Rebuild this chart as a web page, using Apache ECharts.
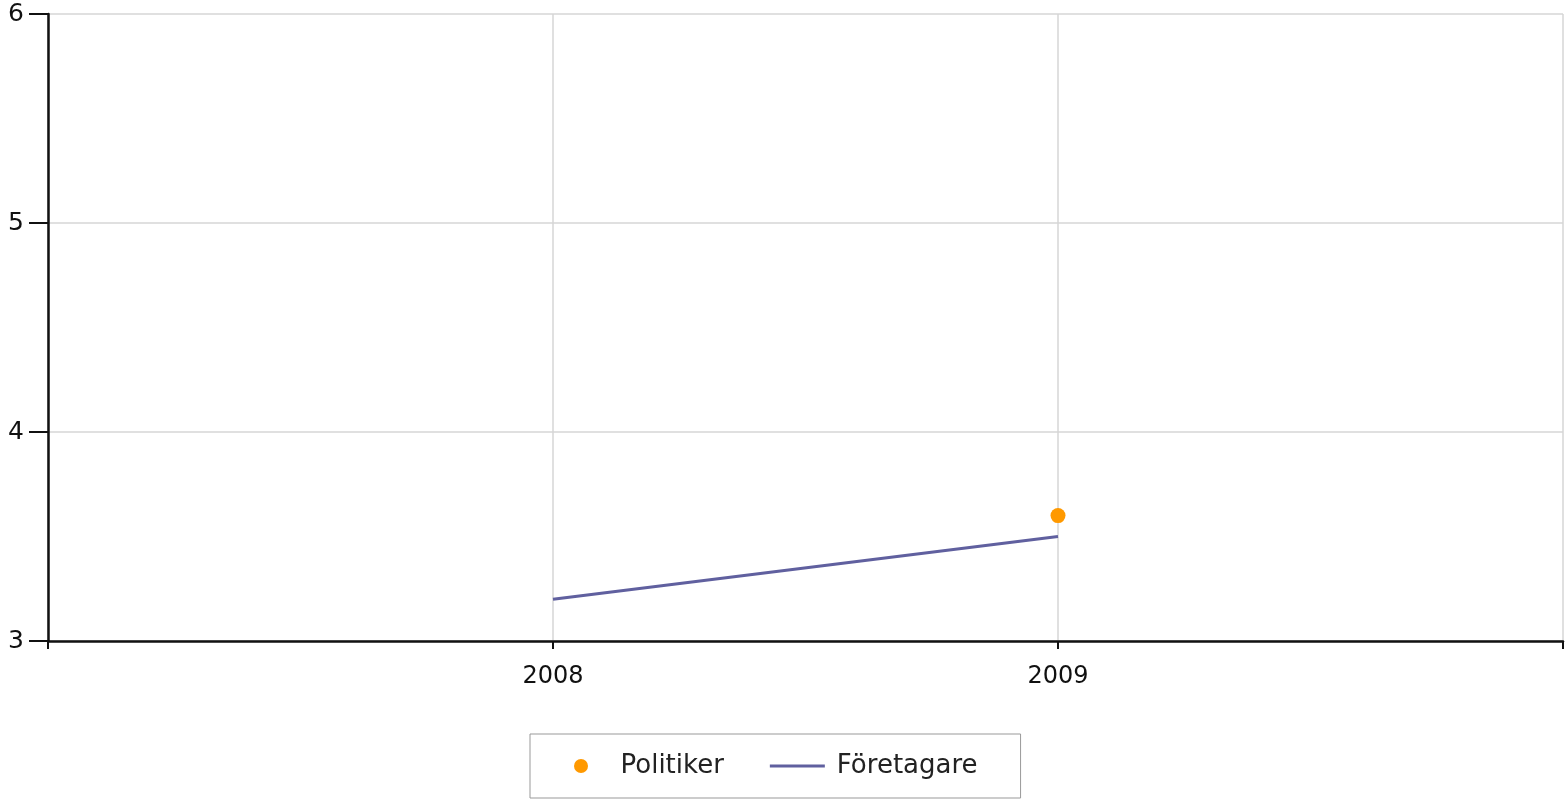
<!DOCTYPE html>
<html>
<head>
<meta charset="utf-8">
<script src="https://cdn.jsdelivr.net/npm/echarts@6/dist/echarts.min.js"></script>
<style>
  html, body { margin: 0; padding: 0; background: #fff; }
  #chart { width: 1566px; height: 801px; }
</style>
</head>
<body>
<div id="chart"></div>
<script>
// data
var years = [2008, 2009]
var politiker = [[2009, 3.6]]
var foretagare = [3.2, 3.5]
var xShown = [2008, 2009]
var seriesNames = ['Politiker', 'Företagare']

var font = 'DejaVu Sans'
var chart = echarts.init(document.getElementById('chart'))
var option = {
  animation: false,
  textStyle: { fontFamily: font },
  grid: {
    left: 48,
    right: 3,
    top: 14,
    bottom: 160
  },
  legend: {
    data: [
      { name: seriesNames[0], icon: 'circle' },
      { name: seriesNames[1], icon: 'path://M0,0 H55 V3 H0 Z', itemStyle: { color: '#60609f' } }
    ],
    symbolKeepAspect: true,
    left: 530,
    bottom: 3,
    orient: 'horizontal',
    itemWidth: 55,
    itemHeight: 14,
    itemGap: 46,
    padding: [19, 43, 19, 44],
    borderColor: '#999',
    borderWidth: 1,
    textStyle: { fontFamily: font, fontSize: 26, color: '#222', padding: [0, 0, 0, 7] }
  },
  xAxis: {
    type: 'value',
    min: 2007,
    max: 2010,
    interval: 1,
    axisLine: { show: true, onZero: false, lineStyle: { color: '#111', width: 2.5 } },
    axisTick: { show: true, length: 8, lineStyle: { color: '#111', width: 2 } },
    axisLabel: {
      margin: 24,
      fontSize: 24,
      color: '#111',
      fontFamily: font,
      formatter: function (v) { return xShown.indexOf(v) >= 0 ? String(v) : '' }
    },
    splitLine: { show: true, lineStyle: { color: '#d6d6d6', width: 1.5 } }
  },
  yAxis: {
    type: 'value',
    min: 3,
    max: 6,
    interval: 1,
    axisLine: { show: true, lineStyle: { color: '#111', width: 2.5 } },
    axisTick: { show: true, length: 19, lineStyle: { color: '#111', width: 2 } },
    axisLabel: { margin: 24, fontSize: 25, color: '#111', fontFamily: font, padding: [6, 0, 0, 0] },
    splitLine: { show: true, lineStyle: { color: '#d6d6d6', width: 1.5 } }
  },
  series: [
    {
      name: seriesNames[0],
      type: 'scatter',
      symbol: 'circle',
      symbolSize: 15,
      itemStyle: { color: '#ff9900', opacity: 1 },
      data: politiker
    },
    {
      name: seriesNames[1],
      type: 'line',
      symbol: 'none',
      lineStyle: { color: '#60609f', width: 3 },
      itemStyle: { color: '#60609f' },
      data: years.map(function (y, i) { return [y, foretagare[i]] })
    }
  ]
}
chart.setOption(option)
</script>
</body>
</html>
